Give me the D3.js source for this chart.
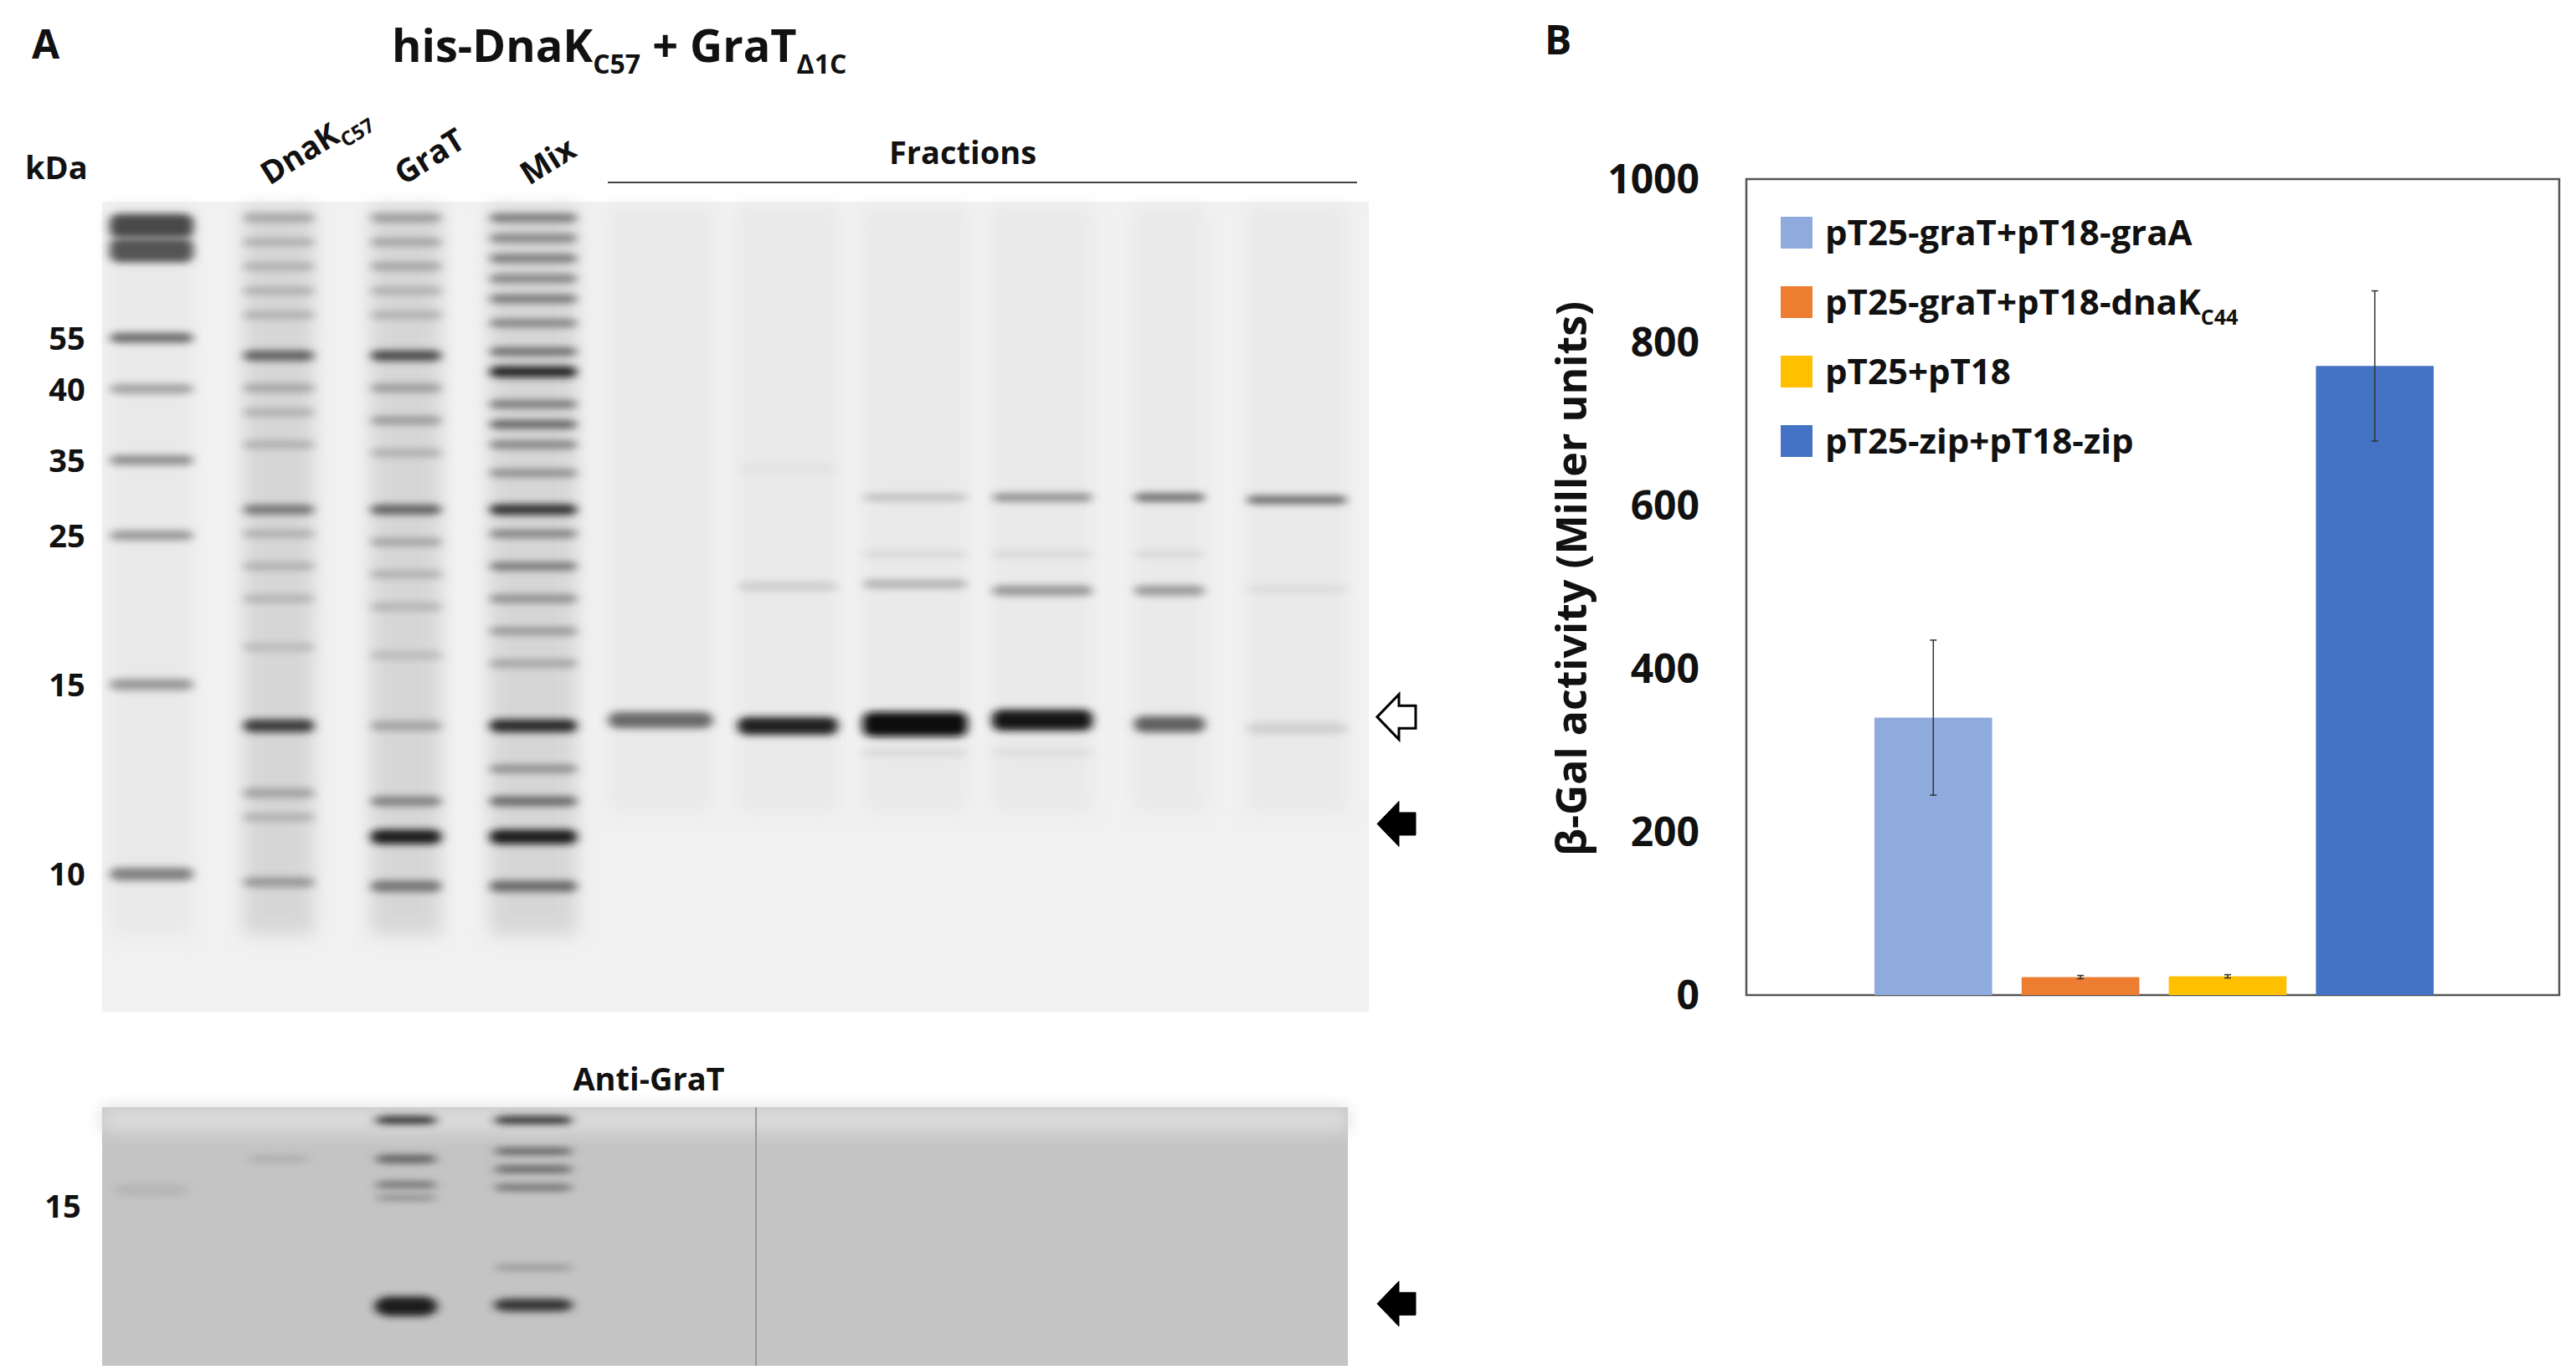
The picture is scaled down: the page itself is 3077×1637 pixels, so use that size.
<!DOCTYPE html>
<html><head><meta charset="utf-8">
<script src="https://cdn.jsdelivr.net/npm/d3@7"></script>
<style>body{margin:0;background:#fff}svg text{font-family:"Open Sans",sans-serif;font-weight:700;fill:#111}</style>
</head><body><svg id="c" width="3077" height="1637"></svg>
<script>
// ---------- Panel B data ----------
const constructs = ["pT25-graT+pT18-graA","pT25-graT+pT18-dnaK","pT25+pT18","pT25-zip+pT18-zip"];
const constructSubs = ["","C44","",""];
const activity = [340, 22, 23, 771];
const activityErr = [95, 2, 2, 92];
const barColors = ["#8faadc","#ed7d31","#ffc000","#4472c4"];
const yTicks = [0,200,400,600,800,1000];
// ---------- Panel A data ----------
const lanes = ["M","DnaK","GraT","Mix","F1","F2","F3","F4","F5","F6"];
const markerKDa = ["55","40","35","25","15","10"];
const markerRf = [0.168,0.231,0.319,0.412,0.596,0.83];
// bands: [lane, rf, intensity, thickness]
const gelBands = [
 ["M",0.03,0.75,0.03],["M",0.06,0.7,0.03],["M",0.168,0.6,0.012],["M",0.231,0.35,0.012],["M",0.319,0.45,0.012],["M",0.412,0.4,0.012],["M",0.596,0.4,0.014],["M",0.83,0.5,0.016],
 ["DnaK",0.02,0.35,0.01],["DnaK",0.05,0.3,0.01],["DnaK",0.08,0.3,0.01],["DnaK",0.11,0.3,0.01],["DnaK",0.14,0.3,0.01],["DnaK",0.19,0.65,0.013],["DnaK",0.23,0.35,0.01],["DnaK",0.26,0.3,0.01],["DnaK",0.3,0.3,0.01],["DnaK",0.38,0.55,0.012],["DnaK",0.41,0.3,0.01],["DnaK",0.45,0.3,0.01],["DnaK",0.49,0.28,0.01],["DnaK",0.55,0.25,0.01],["DnaK",0.647,0.8,0.016],["DnaK",0.73,0.35,0.012],["DnaK",0.76,0.3,0.01],["DnaK",0.84,0.4,0.012],
 ["GraT",0.02,0.4,0.01],["GraT",0.05,0.35,0.01],["GraT",0.08,0.35,0.01],["GraT",0.11,0.3,0.01],["GraT",0.14,0.3,0.01],["GraT",0.19,0.75,0.013],["GraT",0.23,0.4,0.01],["GraT",0.27,0.4,0.01],["GraT",0.31,0.3,0.01],["GraT",0.38,0.65,0.012],["GraT",0.42,0.35,0.01],["GraT",0.46,0.3,0.01],["GraT",0.5,0.28,0.01],["GraT",0.56,0.25,0.01],["GraT",0.647,0.35,0.012],["GraT",0.74,0.5,0.012],["GraT",0.784,0.95,0.018],["GraT",0.845,0.55,0.014],
 ["Mix",0.02,0.55,0.01],["Mix",0.045,0.5,0.01],["Mix",0.07,0.55,0.01],["Mix",0.095,0.5,0.01],["Mix",0.12,0.55,0.01],["Mix",0.15,0.5,0.01],["Mix",0.185,0.6,0.01],["Mix",0.21,0.9,0.014],["Mix",0.25,0.55,0.01],["Mix",0.275,0.65,0.01],["Mix",0.3,0.5,0.01],["Mix",0.335,0.45,0.01],["Mix",0.38,0.85,0.013],["Mix",0.41,0.5,0.01],["Mix",0.45,0.55,0.01],["Mix",0.49,0.45,0.01],["Mix",0.53,0.4,0.01],["Mix",0.57,0.35,0.01],["Mix",0.647,0.88,0.016],["Mix",0.7,0.45,0.01],["Mix",0.74,0.6,0.012],["Mix",0.784,0.95,0.018],["Mix",0.845,0.6,0.014],
 ["F1",0.64,0.6,0.02],["F2",0.647,0.92,0.022],["F3",0.645,1.0,0.03],["F4",0.64,0.97,0.026],["F5",0.645,0.65,0.02],["F6",0.65,0.15,0.014],
 ["F2",0.33,0.08,0.008],["F3",0.365,0.25,0.008],["F4",0.365,0.45,0.01],["F5",0.365,0.6,0.01],["F6",0.368,0.62,0.01],
 ["F2",0.475,0.18,0.01],["F3",0.472,0.3,0.01],["F4",0.48,0.42,0.012],["F5",0.48,0.4,0.012],["F6",0.478,0.1,0.01],
 ["F3",0.435,0.12,0.008],["F4",0.435,0.12,0.008],["F5",0.435,0.12,0.008],["F3",0.68,0.12,0.008],["F4",0.68,0.1,0.008]
];
const blotBands = [
 ["GraT",0.05,0.85,0.03],["GraT",0.2,0.6,0.03],["GraT",0.3,0.5,0.025],["GraT",0.35,0.35,0.02],["GraT",0.77,0.95,0.075],
 ["Mix",0.05,0.85,0.03],["Mix",0.17,0.6,0.025],["Mix",0.24,0.6,0.025],["Mix",0.31,0.5,0.025],["Mix",0.62,0.3,0.02],["Mix",0.765,0.8,0.05],
 ["DnaK",0.2,0.12,0.03],["M",0.32,0.08,0.05]
];

const svg = d3.select("#c");
const defs = svg.append("defs");
defs.append("filter").attr("id","blur").attr("x","-20%").attr("y","-300%").attr("width","140%").attr("height","700%")
  .append("feGaussianBlur").attr("stdDeviation","6 4.5");
defs.append("filter").attr("id","blur2").attr("x","-20%").attr("y","-50%").attr("width","140%").attr("height","200%")
  .append("feGaussianBlur").attr("stdDeviation","10");

// ---------- Panel A ----------
const gel = {x0:122,x1:1635,y0:241,y1:1209};
const blot = {x0:122,x1:1610,y0:1323,y1:1632};
const xl = d3.scalePoint().domain(lanes).range([181,1549]);
const laneW = {M:100,DnaK:85,GraT:85,Mix:105,F1:125,F2:120,F3:125,F4:120,F5:85,F6:120};
const yg = d3.scaleLinear().domain([0,1]).range([gel.y0,gel.y1]);
const yb = d3.scaleLinear().domain([0,1]).range([blot.y0,blot.y1]);
const shade = d3.scaleLinear().domain([0,1]).range(["#f2f2f2","#111"]);

svg.append("text").attr("x",38).attr("y",70).attr("font-size",48).text("A");
const t = svg.append("text").attr("x",468).attr("y",74).attr("font-size",54);
t.append("tspan").text("his-DnaK");
t.append("tspan").attr("font-size",32).attr("dy",14).text("C57");
t.append("tspan").attr("dy",-14).text(" + GraT");
t.append("tspan").attr("font-size",32).attr("dy",14).text("Δ1C");

svg.append("text").attr("x",30).attr("y",214).attr("font-size",38).text("kDa");
svg.append("rect").attr("x",gel.x0).attr("y",gel.y0).attr("width",gel.x1-gel.x0).attr("height",gel.y1-gel.y0).attr("fill","#f1f1f1");
const gg = svg.append("g");
gg.selectAll("rect.sm").data(lanes).join("rect")
  .attr("x",d=>xl(d)-laneW[d]/2).attr("width",d=>laneW[d]).attr("y",yg(0)+5).attr("height",d=>yg(["M","DnaK","GraT","Mix"].includes(d)?0.9:0.75)-yg(0))
  .attr("fill",d=>["DnaK","GraT","Mix"].includes(d)?"#ccc":"#e6e6e6").attr("opacity",0.7).attr("filter","url(#blur2)");
gg.selectAll("rect.b").data(gelBands).join("rect")
  .attr("x",d=>xl(d[0])-laneW[d[0]]/2).attr("width",d=>laneW[d[0]])
  .attr("y",d=>yg(d[1]-d[3]/2)).attr("height",d=>yg(d[3])-yg(0))
  .attr("rx",10).attr("fill",d=>shade(d[2])).attr("filter","url(#blur)");
svg.selectAll("text.mk").data(markerKDa).join("text").attr("x",80).attr("y",(d,i)=>yg(markerRf[i])+14)
  .attr("text-anchor","middle").attr("font-size",38).text(d=>d);
const ll = [["DnaK","C57",322],["GraT","",482],["Mix","",632]];
ll.forEach(([a,s,x])=>{
  const tt = svg.append("text").attr("transform",`translate(${x},${222}) rotate(-32)`).attr("font-size",38);
  tt.append("tspan").text(a);
  if(s) tt.append("tspan").attr("font-size",24).attr("dy",10).text(s);
});
svg.append("text").attr("x",1150).attr("y",196).attr("text-anchor","middle").attr("font-size",38).text("Fractions");
svg.append("line").attr("x1",726).attr("x2",1621).attr("y1",218).attr("y2",218).attr("stroke","#444").attr("stroke-width",2);
function arrow(y, filled){
  const x=1645, h=54;
  const p=`M${x},${y} L${x+26},${y-h/2} L${x+26},${y-h/4} L${x+46},${y-h/4} L${x+46},${y+h/4} L${x+26},${y+h/4} L${x+26},${y+h/2} Z`;
  svg.append("path").attr("d",p).attr("fill",filled?"#000":"#fff").attr("stroke","#000").attr("stroke-width",filled?1:3);
}
arrow(yg(0.636),false); arrow(yg(0.768),true);

svg.append("text").attr("x",775).attr("y",1303).attr("text-anchor","middle").attr("font-size",38).text("Anti-GraT");
svg.append("rect").attr("x",blot.x0).attr("y",blot.y0).attr("width",blot.x1-blot.x0).attr("height",blot.y1-blot.y0).attr("fill","#c4c4c4");
svg.append("rect").attr("x",blot.x0).attr("y",blot.y0).attr("width",blot.x1-blot.x0).attr("height",30).attr("fill","#dcdcdc").attr("filter","url(#blur2)");
svg.append("g").selectAll("rect").data(blotBands).join("rect")
  .attr("x",d=>xl(d[0])-laneW[d[0]]/2+5).attr("width",d=>laneW[d[0]]-10)
  .attr("y",d=>yb(d[1]-d[3]/2)).attr("height",d=>yb(d[3])-yb(0))
  .attr("rx",18).attr("fill",d=>d3.scaleLinear().domain([0,1]).range(["#c4c4c4","#111"])(d[2])).attr("filter","url(#blur)");
svg.append("line").attr("x1",903).attr("x2",903).attr("y1",blot.y0).attr("y2",blot.y1).attr("stroke","#999").attr("stroke-width",2);
svg.append("text").attr("x",75).attr("y",1455).attr("text-anchor","middle").attr("font-size",38).text("15");
arrow(yb(0.76),true);

// ---------- Panel B ----------
svg.append("text").attr("x",1845).attr("y",65).attr("font-size",48).text("B");
const px0=2086, px1=3057, py0=214, py1=1189;
const y = d3.scaleLinear().domain([0,1000]).range([py1,py0]);
const x = d3.scaleBand().domain(constructs).range([2239,2907]).paddingInner(0.2).paddingOuter(0);
svg.append("rect").attr("x",px0).attr("y",py0).attr("width",px1-px0).attr("height",py1-py0).attr("fill","none").attr("stroke","#555").attr("stroke-width",2.5);
svg.selectAll("text.yt").data(yTicks).join("text").attr("x",2030).attr("y",d=>y(d)+17).attr("text-anchor","end").attr("font-size",48).text(d=>d);
svg.append("text").attr("transform",`translate(1895,${(py0+py1)/2-10}) rotate(-90)`).attr("text-anchor","middle").attr("font-size",50).text("β-Gal activity (Miller units)");
svg.selectAll("rect.bar").data(constructs).join("rect").attr("x",d=>x(d)).attr("width",x.bandwidth())
  .attr("y",(d,i)=>y(activity[i])).attr("height",(d,i)=>y(0)-y(activity[i])).attr("fill",(d,i)=>barColors[i]);
const eg = svg.append("g").attr("stroke","#333").attr("stroke-width",1.5);
constructs.forEach((d,i)=>{
  const cx=x(d)+x.bandwidth()/2;
  eg.append("line").attr("x1",cx).attr("x2",cx).attr("y1",y(activity[i]+activityErr[i])).attr("y2",y(activity[i]-activityErr[i]));
  [activity[i]+activityErr[i],activity[i]-activityErr[i]].forEach(v=>eg.append("line").attr("x1",cx-4).attr("x2",cx+4).attr("y1",y(v)).attr("y2",y(v)));
});
const lg = svg.append("g");
constructs.forEach((d,i)=>{
  const yy = 278+i*83;
  lg.append("rect").attr("x",2127).attr("y",yy-19).attr("width",38).attr("height",38).attr("fill",barColors[i]);
  const tt = lg.append("text").attr("x",2180).attr("y",yy+15).attr("font-size",42).text(d);
  if(constructSubs[i]) tt.append("tspan").attr("font-size",25).attr("dy",12).text(constructSubs[i]);
});
</script></body></html>
